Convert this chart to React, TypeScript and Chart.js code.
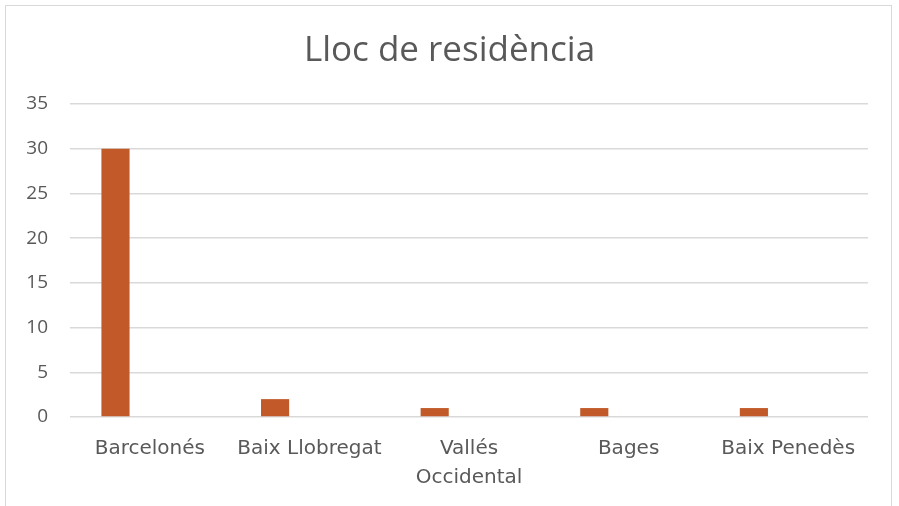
import React, { useEffect, useRef } from "react";
import { Chart, registerables } from "chart.js";

Chart.register(...registerables);

const categories: (string | string[])[] = [
  "Barcelonés",
  "Baix Llobregat",
  ["Vallés", "Occidental"],
  "Bages",
  "Baix Penedès",
];
const seriesValues = [30, 2, 1, 1, 1];
const emptySeries = [null, null, null, null, null];
const yMin = 0;
const yMax = 35;
const yStep = 5;
const titleText = "Lloc de residència";

const FONT = "'Open Sans', 'Noto Sans', sans-serif";
const XFONT = "'DejaVu Sans', 'Open Sans', sans-serif";
const TEXT = "#595959";
const GRID = "#d9d9d9";
const BAR = "#C15A28";

export default function App() {
  const ref = useRef<HTMLCanvasElement | null>(null);

  useEffect(() => {
    document.body.style.margin = "0";
    document.body.style.overflow = "hidden";
    const ctx = ref.current!;
    const chart = new Chart(ctx, {
      type: "bar",
      data: {
        labels: categories as any,
        datasets: [
          {
            label: "Lloc",
            data: seriesValues,
            backgroundColor: BAR,
            borderWidth: 0,
            categoryPercentage: 0.86,
            barPercentage: 0.41,
          },
          {
            label: "",
            data: emptySeries as any,
            backgroundColor: BAR,
            borderWidth: 0,
            categoryPercentage: 0.86,
            barPercentage: 0.41,
          },
        ],
      },
      options: {
        animation: false,
        responsive: false,
        maintainAspectRatio: false,
        layout: { padding: { left: 0, right: 0, top: 0, bottom: 0 } },
        plugins: {
          legend: { display: false },
          tooltip: { enabled: false },
          title: {
            display: true,
            text: titleText,
            color: TEXT,
            font: { family: FONT, size: 35, weight: "normal" as any },
            padding: { top: 30, bottom: 32 },
          },
        },
        scales: {
          x: {
            grid: { display: false, drawTicks: false },
            border: { display: false },
            ticks: {
              color: TEXT,
              font: { family: XFONT, size: 20, lineHeight: 1.45 },
              padding: 17,
              maxRotation: 0,
              autoSkip: false,
            },
            afterFit: (s: any) => {
              s.height = 89;
            },
          },
          y: {
            min: yMin,
            max: yMax,
            ticks: {
              stepSize: yStep,
              color: TEXT,
              font: { family: FONT, size: 19 },
              padding: 22,
            },
            grid: { color: GRID, lineWidth: 1.5, drawTicks: false },
            border: { display: false },
            afterFit: (s: any) => {
              s.width = 70;
            },
          },
          yRight: {
            position: "right",
            display: true,
            min: yMin,
            max: yMax,
            grid: { display: false, drawTicks: false },
            border: { display: false },
            ticks: { display: false },
            afterFit: (s: any) => {
              s.width = 31;
            },
          },
        },
      },
    });
    return () => chart.destroy();
  }, []);

  return (
    <div style={{ position: "fixed", left: 0, top: 0, width: 899, height: 506, background: "#fff", overflow: "hidden" }}>
      <canvas ref={ref} width={899} height={506} style={{ position: "absolute", left: 0, top: 0 }} />
      <div
        style={{
          position: "absolute",
          left: 5,
          top: 5,
          width: 887,
          height: 540,
          border: "1.5px solid #d9d9d9",
          boxSizing: "border-box",
          pointerEvents: "none",
        }}
      />
    </div>
  );
}
